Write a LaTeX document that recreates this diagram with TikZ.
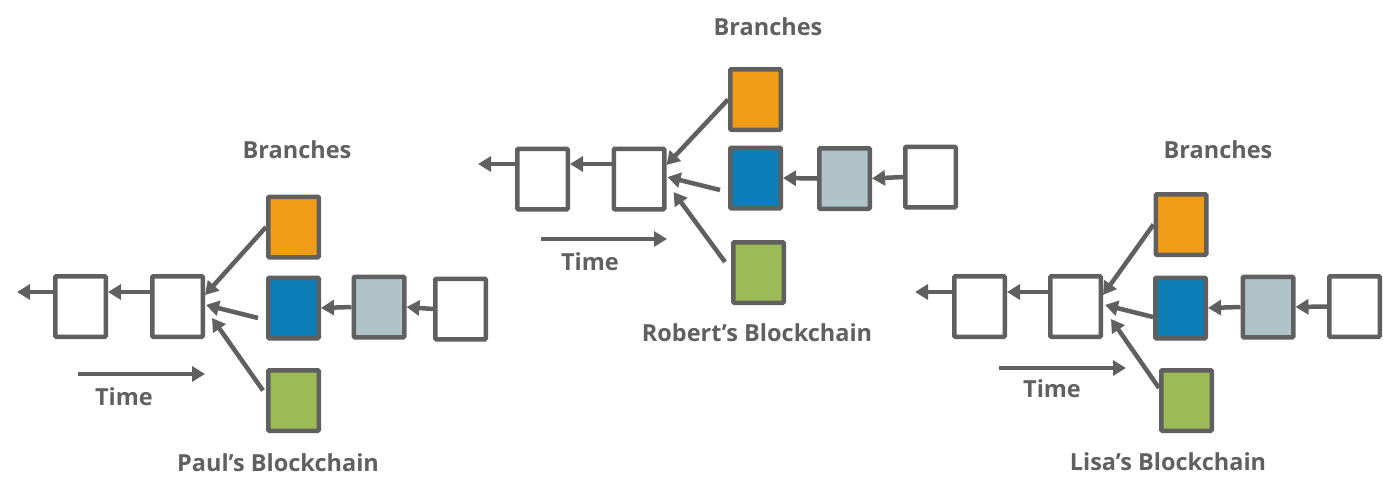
\documentclass[tikz,border=0pt]{standalone}
\usepackage{fontspec}
\setmainfont{Open Sans}
\usetikzlibrary{arrows.meta}
\definecolor{gc}{HTML}{606060}
\definecolor{corange}{HTML}{F09C17}
\definecolor{cblue}{HTML}{0E7EB8}
\definecolor{cgrey}{HTML}{B0C3C8}
\definecolor{cgreen}{HTML}{9CBA55}
\tikzset{
  blk/.style={draw=gc, line width=4.5pt, minimum width=50.5pt, minimum height=60.5pt, inner sep=0pt, rounded corners=1pt, fill=white},
  arr/.style={draw=gc, line width=4.5pt, -{Triangle[length=13pt,width=15pt]}},
  lbl/.style={text=gc, font=\bfseries\fontsize{23.5}{28}\selectfont, inner sep=0pt}
}
\begin{document}
\begin{tikzpicture}[x=1pt,y=-1pt]
\useasboundingbox (0,0) rectangle (1383,498);
% ---------- Paul ----------
\node[blk] (P1) at (80.5,306.5) {};
\node[blk] (P2) at (177.5,306.5) {};
\node[blk, fill=corange] (Po) at (293.5,227) {};
\node[blk, fill=cblue] (Pb) at (293.5,308) {};
\node[blk, fill=cgrey] (Pl) at (379,307) {};
\node[blk] (Pw) at (460.5,309) {};
\node[blk, fill=cgreen] (Pg) at (293.5,400.5) {};
\coordinate (Pend) at (17,292);
\coordinate (Pt1) at (78,374);
\coordinate (Pt2) at (205,374);
\draw[arr] (Pl.west) -- (Pb.east);
\draw[arr] (Pw.west) -- (Pl.east);
\draw[arr] ([yshift=14.5pt]P2.west) -- ([yshift=14.5pt]P1.east);
\draw[arr] ([yshift=14.5pt]P1.west) -- (Pend);
\draw[arr] (Po.west) -- ([yshift=11.5pt]P2.east);
\draw[arr] ([xshift=-8pt,yshift=-10pt]Pb.west) -- ([xshift=1pt,yshift=1.5pt]P2.east);
\draw[arr] ([xshift=-3pt,yshift=10pt]Pg.west) -- ([xshift=7pt,yshift=-11.5pt]P2.east);
\draw[arr] (Pt1) -- (Pt2);
\node[lbl] (Pbr) at (297,150) {Branches};
\node[lbl] (Ptime) at (124,397) {Time};
\node[lbl] (Pname) at (278,463) {Paul’s Blockchain};
% ---------- Robert ----------
\node[blk] (R1) at (542.5,179) {};
\node[blk] (R2) at (639,179) {};
\node[blk, fill=corange] (Ro) at (755.5,99.5) {};
\node[blk, fill=cblue] (Rb) at (755.5,178) {};
\node[blk, fill=cgrey] (Rl) at (844.5,178.5) {};
\node[blk] (Rw) at (930.5,177) {};
\node[blk, fill=cgreen] (Rg) at (758.5,272.5) {};
\coordinate (Rend) at (478,164);
\coordinate (Rt1) at (541,239);
\coordinate (Rt2) at (667,239);
\draw[arr] (Rl.west) -- (Rb.east);
\draw[arr] (Rw.west) -- (Rl.east);
\draw[arr] ([yshift=15pt]R2.west) -- ([yshift=15pt]R1.east);
\draw[arr] ([yshift=15pt]R1.west) -- (Rend);
\draw[arr] (Ro.west) -- ([yshift=14pt]R2.east);
\draw[arr] ([xshift=-8pt,yshift=-12pt]Rb.west) -- ([xshift=1pt,yshift=2pt]R2.east);
\draw[arr] ([xshift=-6pt,yshift=10.5pt]Rg.west) -- ([xshift=7pt,yshift=-13pt]R2.east);
\draw[arr] (Rt1) -- (Rt2);
\node[lbl] (Rbr) at (768,27) {Branches};
\node[lbl] (Rtime) at (590,262) {Time};
\node[lbl] (Rname) at (757,333) {Robert’s Blockchain};
% ---------- Lisa ----------
\node[blk] (L1) at (979.5,306.5) {};
\node[blk] (L2) at (1075.5,306.5) {};
\node[blk, fill=corange] (Lo) at (1181,224.5) {};
\node[blk, fill=cblue] (Lb) at (1180.5,308) {};
\node[blk, fill=cgrey] (Ll) at (1268,307) {};
\node[blk] (Lw) at (1354.5,306.5) {};
\node[blk, fill=cgreen] (Lg) at (1186.5,400.5) {};
\coordinate (Lend) at (915,292);
\coordinate (Lt1) at (999,368);
\coordinate (Lt2) at (1126,368);
\draw[arr] (Ll.west) -- (Lb.east);
\draw[arr] (Lw.west) -- (Ll.east);
\draw[arr] ([yshift=14.5pt]L2.west) -- ([yshift=14.5pt]L1.east);
\draw[arr] ([yshift=14.5pt]L1.west) -- (Lend);
\draw[arr] (Lo.west) -- ([yshift=11.5pt]L2.east);
\draw[arr] ([yshift=-9pt]Lb.west) -- ([xshift=2pt,yshift=1.5pt]L2.east);
\draw[arr] ([yshift=12.5pt]Lg.west) -- ([xshift=8pt,yshift=-12.5pt]L2.east);
\draw[arr] (Lt1) -- (Lt2);
\node[lbl] (Lbr) at (1218,150) {Branches};
\node[lbl] (Ltime) at (1052,389) {Time};
\node[lbl] (Lname) at (1168,462) {Lisa’s Blockchain};
\end{tikzpicture}
\end{document}
